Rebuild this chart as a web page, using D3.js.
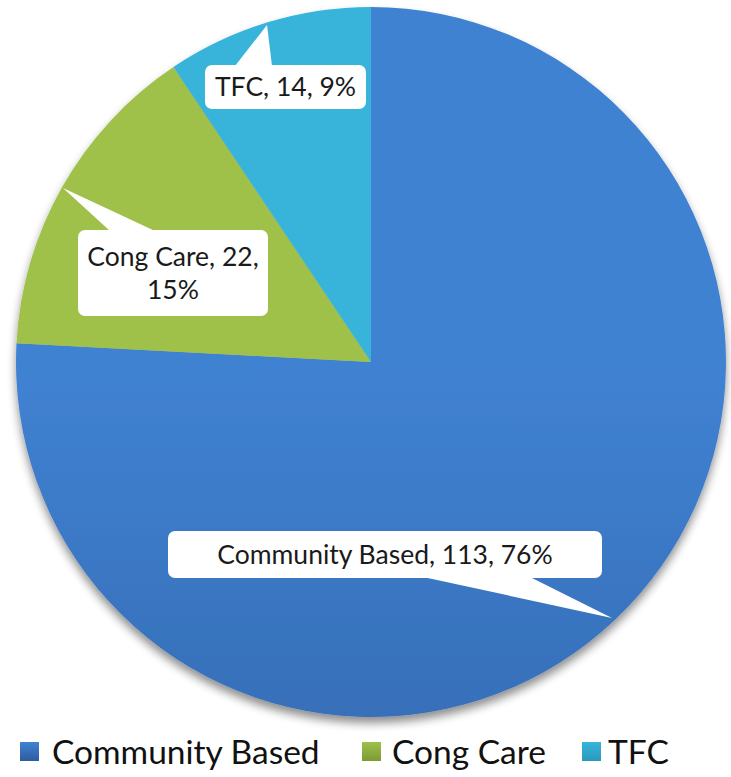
<!DOCTYPE html>
<html>
<head>
<meta charset="utf-8">
<script src="https://cdn.jsdelivr.net/npm/d3@7"></script>
<style>
  html, body { margin: 0; padding: 0; background: #fff; }
  svg { display: block; font-family: Lato, "Open Sans", "DejaVu Sans", sans-serif; }
</style>
</head>
<body>
<svg id="chart" width="731" height="777"></svg>
<script>
// Placement counts by setting
const categories = ["Community Based", "Cong Care", "TFC"];
const counts = [113, 22, 14];
const percents = ["76%", "15%", "9%"];
const colorTop = ["#4082d2", "#9fc049", "#38b4da"];
const colorBottom = ["#2d5c9f", "#7b9b33", "#2a98bd"];

const W = 731, H = 777;
const cx = 371, cy = 362, R = 355;

const svg = d3.select("#chart");
const defs = svg.append("defs");

// soft shadow under the pie
const shadow = defs.append("filter").attr("id", "shadow")
  .attr("x", "-10%").attr("y", "-10%").attr("width", "120%").attr("height", "125%");
shadow.append("feGaussianBlur").attr("in", "SourceAlpha").attr("stdDeviation", 5);
shadow.append("feOffset").attr("dx", 0).attr("dy", 6).attr("result", "off");
shadow.append("feComponentTransfer").append("feFuncA").attr("type", "linear").attr("slope", 0.45);
const merge = shadow.append("feMerge");
merge.append("feMergeNode");
merge.append("feMergeNode").attr("in", "SourceGraphic");

// vertical gradients per slice (and for the legend swatches)
categories.forEach((c, i) => {
  const g = defs.append("linearGradient").attr("id", "grad" + i)
    .attr("gradientUnits", "userSpaceOnUse")
    .attr("x1", 0).attr("y1", cy - R).attr("x2", 0).attr("y2", cy + R);
  g.append("stop").attr("offset", "0%").attr("stop-color", colorTop[i]);
  g.append("stop").attr("offset", "100%").attr("stop-color", colorBottom[i]);
  const lg = defs.append("linearGradient").attr("id", "legGrad" + i)
    .attr("x1", 0).attr("y1", 0).attr("x2", 0).attr("y2", 1);
  lg.append("stop").attr("offset", "0%").attr("stop-color", colorTop[i]);
  lg.append("stop").attr("offset", "100%").attr("stop-color", colorBottom[i]);
});

const pie = d3.pie().sort(null).value(d => d)(counts);
const arc = d3.arc().innerRadius(0).outerRadius(R);

const gPie = svg.append("g")
  .attr("transform", `translate(${cx},${cy})`)
  .attr("filter", "url(#shadow)");
gPie.selectAll("path").data(pie).join("path")
  .attr("d", arc)
  .attr("fill", (d, i) => `url(#grad${i})`);

// callout labels: box + pointer aimed at the slice
const callouts = [
  { box: [168, 531, 434, 47], base: [423, 530], tip: [612, 618], lines: [`${categories[0]}, ${counts[0]}, ${percents[0]}`] },
  { box: [78, 230, 190, 86], base: [110, 155], tip: [63, 188], lines: [`${categories[1]}, ${counts[1]},`, percents[1]] },
  { box: [205, 65, 161, 44], base: [235, 272], tip: [267, 25], lines: [`${categories[2]}, ${counts[2]}, ${percents[2]}`] }
];

const gLab = svg.append("g");
callouts.forEach((c, i) => {
  const [x, y, w, h] = c.box;
  gLab.append("rect").attr("x", x).attr("y", y).attr("width", w).attr("height", h)
    .attr("rx", 7).attr("fill", "#fff");
  const edgeY = (c.tip[1] > y + h) ? y + h - 1 : y + 1;
  gLab.append("path")
    .attr("d", `M${c.base[0]},${edgeY} L${c.tip[0]},${c.tip[1]} L${c.base[1]},${edgeY} Z`)
    .attr("fill", "#fff");
  const lh = 33;
  const startY = y + h / 2 - (c.lines.length - 1) * lh / 2;
  c.lines.forEach((t, j) => {
    gLab.append("text")
      .attr("x", x + w / 2).attr("y", startY + j * lh)
      .attr("dy", "0.35em").attr("text-anchor", "middle")
      .attr("font-size", 26.5).attr("fill", "#1a1a1a")
      .text(t);
  });
});

// legend
const swatchX = [20, 362, 582];
const labelX = [52, 392, 608];
const gLeg = svg.append("g");
categories.forEach((c, i) => {
  gLeg.append("rect").attr("x", swatchX[i]).attr("y", 742).attr("width", 19).attr("height", 19)
    .attr("fill", `url(#legGrad${i})`);
  gLeg.append("text").attr("x", labelX[i]).attr("y", 764)
    .attr("font-size", 33.5).attr("fill", "#111").text(c);
});
</script>
</body>
</html>
